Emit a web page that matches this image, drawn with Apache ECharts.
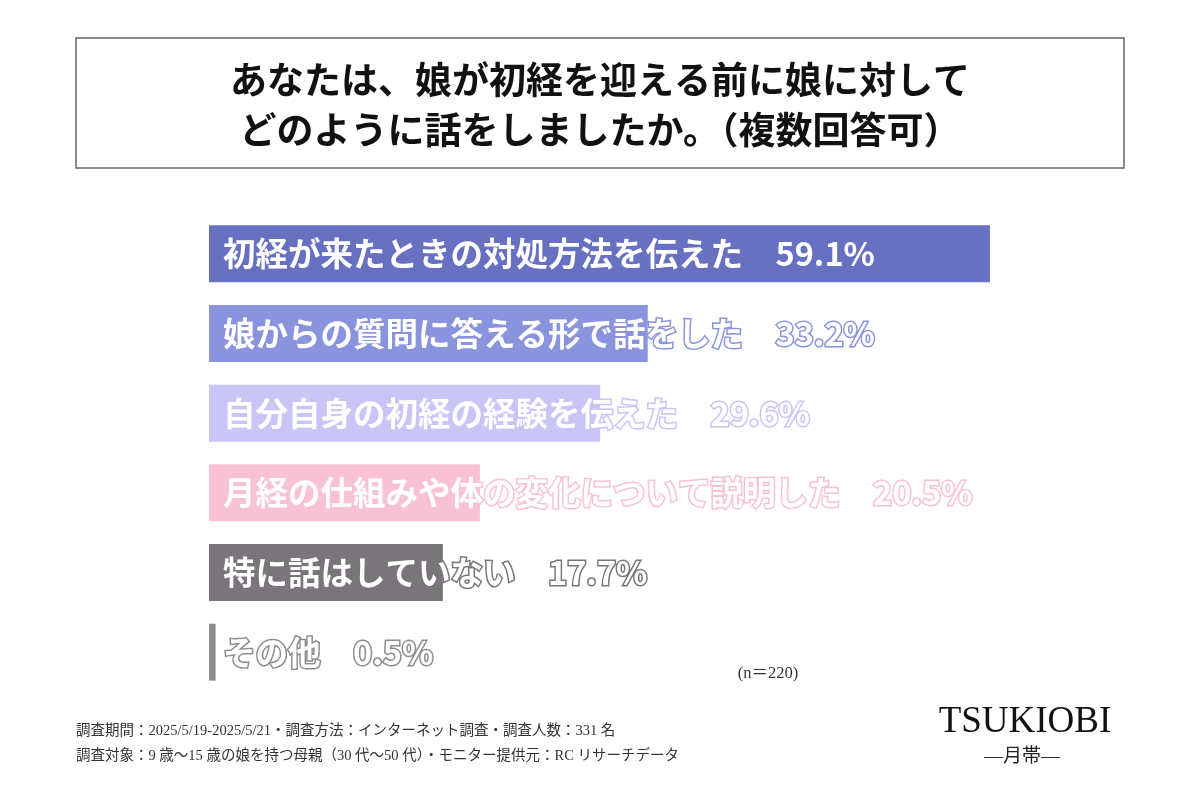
<!DOCTYPE html>
<html><head><meta charset="utf-8">
<script src="https://cdn.jsdelivr.net/npm/echarts@6/dist/echarts.min.js"></script>
<style>html,body{margin:0;padding:0;background:#fff}#c{width:1200px;height:800px}</style>
</head><body><div id="c"></div>
<script>
const categories = [
  '初経が来たときの対処方法を伝えた',
  '娘からの質問に答える形で話をした',
  '自分自身の初経の経験を伝えた',
  '月経の仕組みや体の変化について説明した',
  '特に話はしていない',
  'その他'
];
const values = [59.1, 33.2, 29.6, 20.5, 17.7, 0.5];
const barColors = ['#6770C1', '#8A93DD', '#C9C5F6', '#F8C2D4', '#79757A', '#8F8C90'];
const titleLines = ['あなたは、娘が初経を迎える前に娘に対して', 'どのように話をしましたか。（複数回答可）'];
const footerLines = [
  '調査期間：2025/5/19-2025/5/21・調査方法：インターネット調査・調査人数：331 名',
  '調査対象：9 歳～15 歳の娘を持つ母親（30 代～50 代）・モニター提供元：RC リサーチデータ'
];
const sampleNote = '(n＝220)';

const JP = '"Noto Sans CJK JP", "Noto Sans", sans-serif';
const SERIF = '"Liberation Serif", "DejaVu Serif", "Noto Sans CJK JP", serif';

const chart = echarts.init(document.getElementById('c'));
const data = values.map((v, i) => ({
  value: v,
  itemStyle: { color: barColors[i] },
  label: { textBorderColor: barColors[i] }
}));

chart.setOption({
  animation: false,
  grid: { left: 209, right: 66, top: 214, bottom: 108, containLabel: false },
  xAxis: { type: 'value', min: 0, max: 70, show: false },
  yAxis: { type: 'category', data: categories, inverse: true, show: false },
  series: [{
    type: 'bar',
    data: data,
    barWidth: 57,
    label: {
      show: true,
      position: 'insideLeft',
      distance: 14,
      color: '#fff',
      fontFamily: JP,
      fontWeight: 'bold',
      fontSize: 32.5,
      textBorderWidth: 3,
      formatter: p => categories[p.dataIndex] + '　' + p.value.toFixed(1) + '%'
    }
  }],
  graphic: [
    { type: 'rect', shape: { x: 76, y: 38, width: 1048, height: 130 },
      style: { fill: '#fff', stroke: '#666', lineWidth: 1.5 } },
    { type: 'text', x: 600, y: 80, style: { text: titleLines[0], fill: '#111', font: 'bold 37px ' + JP, align: 'center', verticalAlign: 'middle' } },
    { type: 'text', x: 600, y: 130, style: { text: titleLines[1], fill: '#111', font: 'bold 37px ' + JP, align: 'center', verticalAlign: 'middle' } },
    { type: 'text', x: 768, y: 674, style: { text: sampleNote, fill: '#333', font: '16.5px ' + SERIF, align: 'center', verticalAlign: 'middle' } },
    { type: 'text', x: 76, y: 731, style: { text: footerLines[0], fill: '#333', font: '14.5px ' + SERIF, verticalAlign: 'middle' } },
    { type: 'text', x: 76, y: 756, style: { text: footerLines[1], fill: '#333', font: '14.5px ' + SERIF, verticalAlign: 'middle' } },
    { type: 'text', x: 1025, y: 722, style: { text: 'TSUKIOBI', fill: '#111', font: '37px ' + SERIF, align: 'center', verticalAlign: 'middle' } },
    { type: 'text', x: 1022, y: 757, style: { text: '—月帯—', fill: '#222', font: '19px ' + SERIF, align: 'center', verticalAlign: 'middle' } }
  ]
});
</script></body></html>
